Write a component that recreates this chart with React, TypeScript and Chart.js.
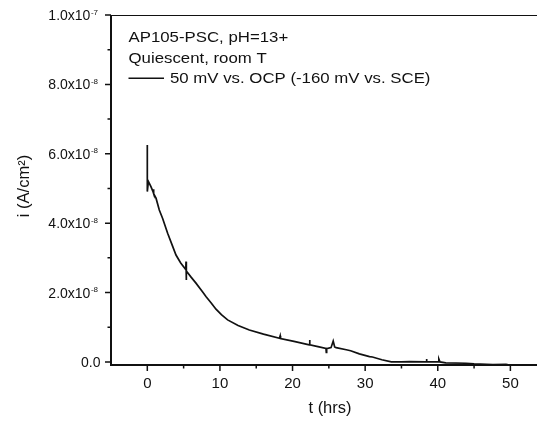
import React, { useEffect, useRef } from 'react';
import { Chart, registerables } from 'chart.js';

Chart.register(...registerables);

// Time (hours) and current density (units of 1e-8 A/cm²)
const timeHours = [
  0.0, 0.0, 0.0, 0.15, 0.5, 0.8, 0.85, 0.9, 1.2, 1.65, 2.1, 2.8, 3.4, 3.95, 4.6, 5.3, 5.33, 5.35, 5.4, 6.0,
  6.7, 7.6, 8.1, 8.8, 9.46, 10.2, 11.06, 12.5, 14.05, 16.0, 18.2, 18.3, 18.35, 20.2, 22.3, 22.35, 22.4, 23.5,
  24.6, 24.65, 24.7, 25.3, 25.6, 25.8, 26.0, 27.4, 28.0, 29.2, 30.6, 31.0, 32.3, 33.6, 35.0, 36.1, 38.4, 38.45,
  38.5, 40.1, 40.15, 40.3, 41.1, 43.9, 45.0, 47.6, 49.4, 49.9,
];
const currentE8 = [
  5.2, 6.25, 4.91, 5.2, 5.05, 4.9, 4.98, 4.85, 4.72, 4.38, 4.14, 3.71, 3.38, 3.08, 2.85, 2.66, 2.89, 2.36, 2.62, 2.45,
  2.27, 2.02, 1.88, 1.7, 1.52, 1.36, 1.21, 1.05, 0.92, 0.8, 0.68, 0.75, 0.67, 0.59, 0.49, 0.63, 0.49, 0.44,
  0.39, 0.27, 0.38, 0.41, 0.6, 0.43, 0.41, 0.35, 0.32, 0.23, 0.15, 0.14, 0.06, 0.0, 0.0, 0.01, 0.0, 0.08,
  0.0, 0.0, 0.08, 0.0, -0.03, -0.04, -0.06, -0.08, -0.07, -0.09,
];

const xMajorTicks = [0, 10, 20, 30, 40, 50, 60];
const xMinorTicks = [5, 15, 25, 35, 45, 55];
const yMajorTicks = [0, 2, 4, 6, 8, 10];
const yMinorTicks = [1, 3, 5, 7, 9];
const yTickMantissa = ['0.0', '2.0x10', '4.0x10', '6.0x10', '8.0x10', '1.0x10'];
const yTickExponent = ['', '-8', '-8', '-8', '-8', '-7'];

const legendLines = ['AP105-PSC, pH=13+', 'Quiescent, room T'];
const seriesLabel = '50 mV vs. OCP (-160 mV vs. SCE)';
const xTitle = 't (hrs)';
const yTitle = 'i (A/cm²)';

const FONT = "'Liberation Sans', Arial, sans-serif";
const INK = '#111';

const decorPlugin = {
  id: 'decor',
  afterDatasetsDraw(chart: any) {
    const ctx: CanvasRenderingContext2D = chart.ctx;
    const { left, right, top, bottom } = chart.chartArea;
    const xs = chart.scales.x;
    const ys = chart.scales.y;
    ctx.save();
    ctx.strokeStyle = INK;
    ctx.fillStyle = INK;

    // top frame line
    ctx.lineWidth = 1;
    ctx.beginPath();
    ctx.moveTo(left, top + 0.5);
    ctx.lineTo(right, top + 0.5);
    ctx.stroke();

    // axes
    ctx.lineWidth = 2;
    ctx.beginPath();
    ctx.moveTo(left, top);
    ctx.lineTo(left, bottom + 1);
    ctx.moveTo(left - 1, bottom);
    ctx.lineTo(right, bottom);
    ctx.stroke();

    // ticks
    ctx.lineWidth = 1.5;
    ctx.beginPath();
    xMajorTicks.forEach((v) => {
      const px = xs.getPixelForValue(v);
      ctx.moveTo(px, bottom);
      ctx.lineTo(px, bottom + 6);
    });
    xMinorTicks.forEach((v) => {
      const px = xs.getPixelForValue(v);
      ctx.moveTo(px, bottom);
      ctx.lineTo(px, bottom + 3.5);
    });
    yMajorTicks.forEach((v) => {
      const py = ys.getPixelForValue(v);
      ctx.moveTo(left, py);
      ctx.lineTo(left - 6, py);
    });
    yMinorTicks.forEach((v) => {
      const py = ys.getPixelForValue(v);
      ctx.moveTo(left, py);
      ctx.lineTo(left - 3.5, py);
    });
    ctx.stroke();

    // x tick labels
    ctx.font = `15px ${FONT}`;
    ctx.textAlign = 'center';
    ctx.textBaseline = 'alphabetic';
    xMajorTicks.forEach((v) => {
      const px = xs.getPixelForValue(v);
      ctx.fillText(String(v), px, 387.5);
    });

    // y tick labels with superscript exponents
    yMajorTicks.forEach((v, i) => {
      const py = ys.getPixelForValue(v);
      const exp = yTickExponent[i];
      ctx.textAlign = 'right';
      let mantRight = 100.5;
      if (exp) {
        ctx.font = `8px ${FONT}`;
        ctx.fillText(exp, 98, py - 0.5);
        mantRight = 98 - ctx.measureText(exp).width - 0.5;
      }
      ctx.font = `14px ${FONT}`;
      ctx.fillText(yTickMantissa[i], mantRight, py + 5);
    });

    // axis titles
    ctx.font = `16.5px ${FONT}`;
    ctx.textAlign = 'center';
    ctx.fillText(xTitle, 330, 413);
    ctx.save();
    ctx.translate(24, 186);
    ctx.rotate(-Math.PI / 2);
    ctx.textBaseline = 'middle';
    ctx.fillText(yTitle, 0, 0);
    ctx.restore();

    // legend / annotation text (slightly widened like the source)
    const drawStretched = (text: string, x: number, y: number) => {
      ctx.save();
      ctx.translate(x, y);
      ctx.scale(1.12, 1);
      ctx.textAlign = 'left';
      ctx.textBaseline = 'alphabetic';
      ctx.font = `15px ${FONT}`;
      ctx.fillText(text, 0, 0);
      ctx.restore();
    };
    drawStretched(legendLines[0], 128.5, 41.7);
    drawStretched(legendLines[1], 128.5, 62.5);
    ctx.lineWidth = 1.5;
    ctx.beginPath();
    ctx.moveTo(128.5, 78.3);
    ctx.lineTo(164, 78.3);
    ctx.stroke();
    drawStretched(seriesLabel, 170, 83.3);

    ctx.restore();
  },
};

export default function App() {
  const canvasRef = useRef<HTMLCanvasElement | null>(null);

  useEffect(() => {
    if (!canvasRef.current) return;
    const points = timeHours.map((t, i) => ({ x: t, y: currentE8[i] }));
    const chart = new Chart(canvasRef.current, {
      type: 'scatter',
      data: {
        datasets: [
          {
            label: seriesLabel,
            data: points,
            showLine: true,
            borderColor: INK,
            backgroundColor: INK,
            borderWidth: 1.7,
            pointRadius: 0,
            tension: 0,
            fill: false,
          } as any,
        ],
      },
      options: {
        responsive: false,
        animation: false,
        devicePixelRatio: 1,
        layout: { padding: { left: 111, top: 15, right: 17, bottom: 58 } },
        plugins: { legend: { display: false }, tooltip: { enabled: false } },
        scales: {
          x: { type: 'linear', display: false, min: -5, max: 60 },
          y: { type: 'linear', display: false, min: -0.09, max: 10 },
        },
      },
      plugins: [decorPlugin],
    });
    return () => chart.destroy();
  }, []);

  return (
    <div
      style={{
        position: 'fixed',
        left: 0,
        top: 0,
        width: 537,
        height: 423,
        overflow: 'hidden',
        background: '#fff',
      }}
    >
      <canvas ref={canvasRef} width={600} height={423} style={{ display: 'block' }} />
    </div>
  );
}
